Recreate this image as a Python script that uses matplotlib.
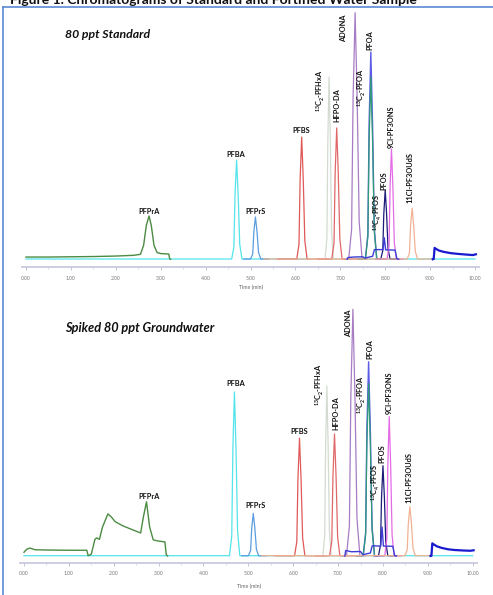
import numpy as np
import matplotlib
matplotlib.use("Agg")
import matplotlib.pyplot as plt
from matplotlib.lines import Line2D

# ------------------------------------------------------
# Data
# ------------------------------------------------------
compounds = ["PFPrA", "PFBA", "PFPrS", "PFBS", "13C2-PFHxA", "HFPO-DA", "ADONA",
             "PFOA", "13C2-PFOA", "PFOS", "9Cl-PF3ONS", "11Cl-PF3OUdS"]
ret_time = [2.74, 4.69, 5.11, 6.14, 6.75, 6.92, 7.33, 7.68, 7.68, 8.00, 8.14, 8.60]
height_std = [17.8, 40.4, 17.4, 49.7, 74.0, 53.4, 100.0, 84.1, 74.0, 28.3, 44.9, 21.0]
height_gw = [22.2, 66.6, 17.5, 47.9, 69.0, 49.6, 100.0, 78.8, 70.0, 36.8, 56.6, 20.2]
peak_width = [1.0, 1.0, 1.0, 1.0, 0.8, 1.0, 1.3, 1.1, 1.1, 0.9, 0.9, 1.0]
# acquisition window (start, end) of every trace
win_start = [0.0, 0.0, 4.85, 5.6, 6.3, 6.5, 7.1, 7.4, 7.4, 7.8, 7.8, 5.3]
win_end = [3.2, 10.0, 5.4, 6.7, 7.2, 7.5, 7.6, 8.0, 8.0, 8.3, 8.4, 9.1]
colors = ["#4b8b42", "#52e4ea", "#5b9de0", "#e05858", "#d3dbd0", "#e06868", "#a77cc4",
          "#5c5ce6", "#2f9a78", "#1c1c7a", "#e46ae6", "#f2b293"]

# labels: (time, intensity) of the label centre, rotated or not
label_text = ["PFPrA", "PFBA", "PFPrS", "PFBS", r"$^{13}$C$_{2}$-PFHxA", "HFPO-DA", "ADONA",
              "PFOA", r"$^{13}$C$_{2}$-PFOA", "PFOS", "9Cl-PF3ONS", "11Cl-PF3OUdS",
              r"$^{13}$C$_{4}$-PFOS"]
label_rot = [0, 0, 0, 0, 90, 90, 90, 90, 90, 90, 90, 90, 90]
label_t_std = [2.73, 4.68, 5.12, 6.12, 6.56, 6.93, 7.07, 7.66, 7.48, 7.96, 8.13, 8.56, 7.83]
label_y_std = [19.5, 42.7, 19.5, 52.2, 68.3, 62.7, 93.6, 88.8, 69.8, 32.0, 53.9, 33.2, 19.2]
label_t_gw = [2.79, 4.72, 5.16, 6.13, 6.60, 6.95, 7.24, 7.71, 7.53, 7.98, 8.13, 8.58, 7.84]
label_y_gw = [24.5, 70.2, 20.5, 50.8, 69.6, 57.9, 94.3, 84.0, 65.4, 41.5, 66.4, 32.0, 30.0]

# explicit traces
green_t_std = [0.0, 0.5, 1.0, 1.5, 2.0, 2.4, 2.55, 2.62, 2.68, 2.74, 2.79, 2.85, 2.92, 3.0, 3.1, 3.18, 3.2, 3.22]
green_y_std = [1.2, 1.2, 1.3, 1.4, 1.6, 1.9, 2.3, 6.0, 14.0, 17.8, 14.0, 6.0, 3.0, 2.6, 2.5, 2.4, 0.5, 0.3]
green_t_gw = [0.0, 0.06, 0.13, 0.25, 0.5, 1.0, 1.4, 1.43, 1.5, 1.58, 1.62, 1.68, 1.75, 1.87, 1.95, 2.03,
              2.2, 2.43, 2.6, 2.66, 2.73, 2.8, 2.88, 3.0, 3.14, 3.17, 3.2]
green_y_gw = [1.8, 3.0, 3.5, 2.8, 2.7, 2.6, 2.6, 0.4, 1.0, 7.0, 7.6, 7.0, 12.0, 17.3, 16.0, 14.2,
              12.5, 10.8, 9.6, 16.0, 22.2, 12.0, 6.8, 6.3, 6.0, 0.8, 0.3]

c4_t = [7.15, 7.17, 7.3, 7.5, 7.55, 7.72, 7.76, 7.95, 7.98, 8.01, 8.22, 8.26, 8.3]
c4_y_std = [0.3, 1.0, 1.2, 1.3, 0.8, 1.5, 4.2, 4.2, 9.0, 4.1, 4.0, 0.5, 0.3]
c4_y_gw = [0.3, 2.5, 2.0, 2.1, 0.8, 1.5, 4.4, 4.3, 12.0, 4.3, 4.2, 0.5, 0.3]

tail_t = [9.06, 9.08, 9.10, 9.13, 9.2, 9.3, 9.45, 9.6, 9.8, 9.95, 10.02]
tail_y_std = [0.3, 0.4, 4.9, 4.5, 3.8, 3.3, 2.8, 2.5, 2.2, 2.0, 2.3]
tail_y_gw = [0.3, 0.4, 5.4, 5.0, 4.2, 3.6, 3.0, 2.7, 2.5, 2.4, 2.6]

# peak outline (relative to apex) used to draw each narrow peak
PEAK_DT = np.array([-0.11, -0.06, -0.035, 0.0, 0.035, 0.07, 0.12])
PEAK_FRAC = np.array([0.0, 0.12, 0.65, 1.0, 0.65, 0.15, 0.0])
BASE = 0.4

# ------------------------------------------------------
# Figure
# ------------------------------------------------------
plt.rcParams["font.family"] = ["Lato", "DejaVu Sans"]
plt.rcParams["mathtext.fontset"] = "custom"
plt.rcParams["mathtext.rm"] = "Lato:bold"
plt.rcParams["mathtext.it"] = "Lato:bold"
plt.rcParams["mathtext.bf"] = "Lato:bold"

W, H = 493, 595
fig = plt.figure(figsize=(W / 100, H / 100), dpi=100)


def px_axes(x0, x1, y_top, y_bot):
    return fig.add_axes([x0 / W, 1 - y_bot / H, (x1 - x0) / W, (y_bot - y_top) / H])


def draw_panel(ax, heights, green_t, green_y, c4_y, tail_y, lab_t, lab_y):
    for i in range(1, len(compounds)):
        rt, h, w = ret_time[i], heights[i], peak_width[i]
        pt = rt + PEAK_DT * w
        py = BASE + PEAK_FRAC * (h - BASE)
        x = np.concatenate([[win_start[i]], pt, [win_end[i]]])
        y = np.concatenate([[BASE], py, [BASE]])
        if compounds[i] == "PFOA":
            # drawn before 13C2-PFOA so that the labelled standard covers it
            ax.plot(x, y, color=colors[i], lw=1.0, zorder=3)
        else:
            ax.plot(x, y, color=colors[i], lw=0.9, zorder=4)
    ax.plot(green_t, green_y, color=colors[0], lw=1.0, zorder=5)
    ax.plot(c4_t, c4_y, color="#3d3dd6", lw=1.0, zorder=4)
    ax.plot(tail_t, tail_y, color="#1a1ad0", lw=1.6, zorder=4)

    for j, txt in enumerate(label_text):
        ax.text(lab_t[j], lab_y[j], txt, rotation=label_rot[j], ha="center", va="center",
                fontsize=5.3, fontweight="bold", color="#111111", zorder=6)

    ax.set_xlim(-0.1, 10.1)
    for s in ["top", "right", "left"]:
        ax.spines[s].set_visible(False)
    ax.spines["bottom"].set_color("#c9c9de")
    ax.spines["bottom"].set_linewidth(1.3)
    ax.set_yticks([])
    ax.set_xticks(np.arange(0, 11, 1))
    ax.set_xticklabels([f"{v:.2f}" for v in range(11)])
    ax.set_xticks(np.arange(0, 10.01, 0.5), minor=True)
    ax.tick_params(axis="x", which="major", length=2.5, width=0.6, color="#b8b8d0",
                   labelsize=3.6, labelcolor="#777777", pad=3.5)
    ax.tick_params(axis="x", which="minor", length=1.5, width=0.5, color="#c8c8dc")
    ax.patch.set_alpha(0)


# panel 1: 0 min at x=26, 44.9 px/min; baseline 260 px, 2.473 px per unit
ax1 = px_axes(26 - 0.1 * 44.9, 26 + 10.1 * 44.9, 12.7 - 5 * 2.473, 260 + 3 * 2.473)
ax1.set_ylim(-3, 105)
draw_panel(ax1, height_std, green_t_std, green_y_std, c4_y_std, tail_y_std, label_t_std, label_y_std)

# panel 2: 0 min at x=24, 44.87 px/min; baseline 556.7 px, 2.474 px per unit
ax2 = px_axes(24 - 0.1 * 44.87, 24 + 10.1 * 44.87, 309.3 - 5 * 2.474, 556.7 + 2.6 * 2.474)
ax2.set_ylim(-2.6, 105)
draw_panel(ax2, height_gw, green_t_gw, green_y_gw, c4_y_gw, tail_y_gw, label_t_gw, label_y_gw)

fig.text(251 / W, 1 - 287 / H, "Time (min)", fontsize=3.8, color="#666666", ha="center", va="center")
fig.text(249 / W, 1 - 586 / H, "Time (min)", fontsize=3.8, color="#666666", ha="center", va="center")

fig.text(65 / W, 1 - 34 / H, "80 ppt Standard", fontsize=8.8, fontweight="bold", style="italic",
         ha="left", va="center", color="#111111")
fig.text(65 / W, 1 - 328 / H, "Spiked 80 ppt Groundwater", fontsize=9.2, fontweight="bold", style="italic",
         ha="left", va="center", color="#111111")

# figure caption, cut by the top edge as in the source
fig.text(10 / W, 1 - 4.5 / H, "Figure 1. Chromatograms of Standard and Fortified Water Sample",
         fontsize=10, fontweight="bold", ha="left", va="baseline", color="#111111")

# blue frame
fig.add_artist(Line2D([3 / W, 3 / W], [0, 1 - 7 / H], color="#5a8ad2", lw=1.2))
fig.add_artist(Line2D([3 / W, 1], [1 - 7 / H, 1 - 7 / H], color="#5a8ad2", lw=1.2))

fig.savefig("out.png", dpi=100)
